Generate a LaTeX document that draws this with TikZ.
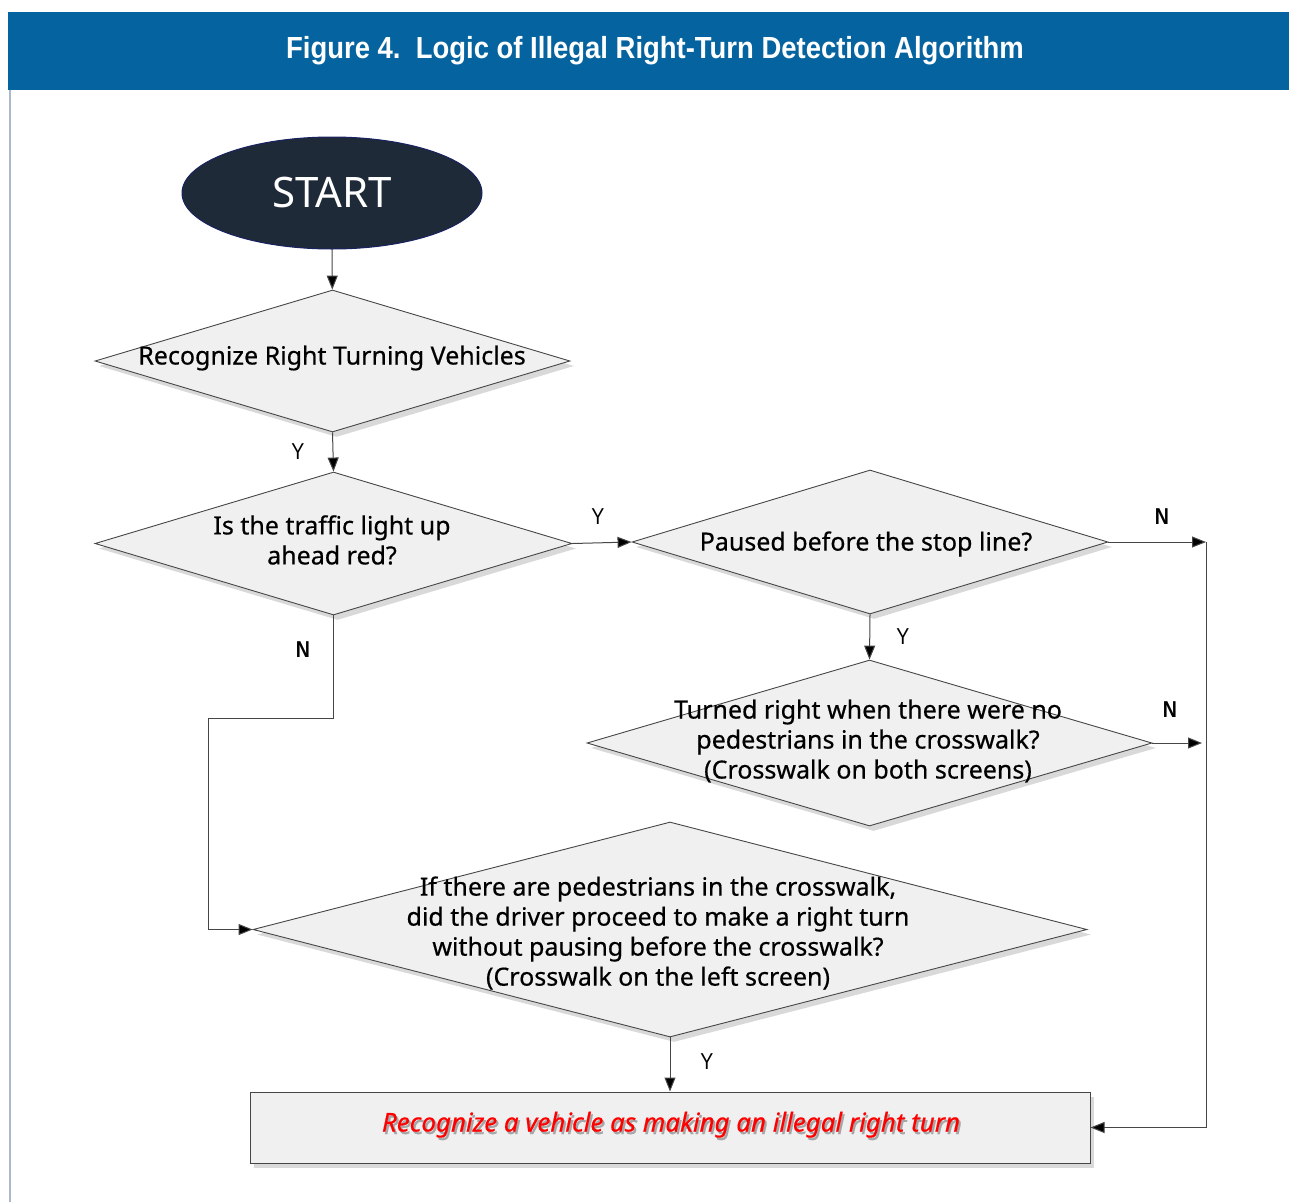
\documentclass[tikz,border=0pt]{standalone}
\usepackage{fontspec}
\setmainfont[FakeBold=0.5]{Noto Sans}
\newfontfamily\titlefont[FakeStretch=0.9]{Liberation Sans}
\newfontfamily\startfont{Noto Sans}
\newfontfamily\ynfont[FakeStretch=0.85]{Liberation Sans}
\usetikzlibrary{shapes.geometric,arrows.meta,shadows}
\definecolor{hdr}{RGB}{5,100,160}
\definecolor{startbg}{RGB}{31,42,56}
\definecolor{edge}{RGB}{70,70,70}
\definecolor{boxfill}{RGB}{240,240,240}
\definecolor{bord}{RGB}{170,185,205}
\newcommand{\redline}{Recognize a vehicle as making an illegal right turn}
\begin{document}
\begin{tikzpicture}[x=1pt,y=-1pt,
  dia/.style={diamond,draw=edge,line width=0.9pt,fill=boxfill,inner sep=0pt,
    drop shadow={shadow xshift=4pt,shadow yshift=-5pt,opacity=0.3}},
  txt/.style={align=center,font=\fontsize{25}{30}\selectfont,inner sep=0pt},
  arr/.style={draw=edge,line width=1pt,-{Triangle[length=14pt,width=11pt,fill=black]}},
  ln/.style={draw=edge,line width=1pt},
  lab/.style={font=\ynfont\fontsize{23}{23}\selectfont,inner sep=0pt},
  labb/.style={font=\ynfont\bfseries\fontsize{23}{23}\selectfont,inner sep=0pt}]
\useasboundingbox (0,0) rectangle (1289,1202);
% header
\fill[hdr] (8,12) rectangle (1289,90);
\node[text=white,font=\titlefont\bfseries\fontsize{30.5}{30.5}\selectfont] (title) at (655,51) {Figure 4.\ \ Logic of Illegal Right-Turn Detection Algorithm};
\draw[bord,line width=1.5pt] (10,90) -- (10,1202);
% start
\node[ellipse,fill=startbg,draw=startbg!80!blue,line width=1pt,minimum width=300pt,minimum height=112pt,inner sep=0pt] (start) at (332,193) {};
\node[text=white,font=\startfont\fontsize{42}{42}\selectfont] (startt) at (332,193) {START};
% diamonds
\node[dia,minimum width=475pt,minimum height=142pt] (d1) at (332.5,361) {};
\node[txt] (d1t) at (332,358) {Recognize Right Turning Vehicles};
\node[dia,minimum width=477pt,minimum height=143pt] (d2) at (333.5,543.5) {};
\node[txt] (d2t) at (332,540) {Is the traffic light up\\ahead red?};
\node[dia,minimum width=476pt,minimum height=144pt] (d3) at (870,542) {};
\node[txt] (d3t) at (866,544) {Paused before the stop line?};
\node[dia,minimum width=565pt,minimum height=166pt] (d4) at (869.5,743) {};
\node[txt] (d4t) at (868,741) {Turned right when there were no\\pedestrians in the crosswalk?\\(Crosswalk on both screens)};
\node[dia,minimum width=834pt,minimum height=215pt] (d5) at (670,929.5) {};
\node[txt] (d5t) at (658,933) {If there are pedestrians in the crosswalk,\\did the driver proceed to make a right turn\\without pausing before the crosswalk?\\(Crosswalk on the left screen)};
% result box
\node[draw=edge,line width=1pt,fill=boxfill,minimum width=840pt,minimum height=71pt,inner sep=0pt,
  drop shadow={shadow xshift=4pt,shadow yshift=-5pt,opacity=0.3}] (box) at (670,1127.5) {};
\node[font=\itshape\fontsize{25.9}{25.9}\selectfont,inner sep=0pt] (boxt) at (671,1126)
  {\makebox[0pt][l]{\hspace{2pt}\raisebox{-2.5pt}{\color{black!35}\redline}}{\color{red}\redline}};
% connectors
\coordinate (c1) at (1206,542);
\coordinate (c2) at (1206,1127.5);
\coordinate (c3) at (1202,743);
\coordinate (c4) at (333.5,718);
\coordinate (c5) at (208,718);
\coordinate (c6) at (208,929.5);
\draw[arr] (start) -- (d1);
\draw[arr] (d1.south) -- (d2.north);
\draw[arr] (d2.east) -- (d3.west);
\draw[arr] (d3.east) -- (c1);
\draw[ln] (c1) -- (c2);
\draw[arr] (c2) -- (box.east);
\draw[arr] (d3.south) -- (d4.north);
\draw[arr] (d4.east) -- (c3);
\draw[arr] (d2.south) -- (c4) -- (c5) -- (c6) -- (d5.west);
\draw[arr] (d5.south) -- (box.north);
% labels
\node[lab] (y1) at (298,452) {Y};
\node[lab] (y2) at (598,517) {Y};
\node[labb] (n1) at (1162,517) {N};
\node[lab] (y3) at (903,637) {Y};
\node[labb] (n2) at (1170,710) {N};
\node[labb] (n3) at (303,650) {N};
\node[lab] (y4) at (707,1062) {Y};
\end{tikzpicture}
\end{document}
